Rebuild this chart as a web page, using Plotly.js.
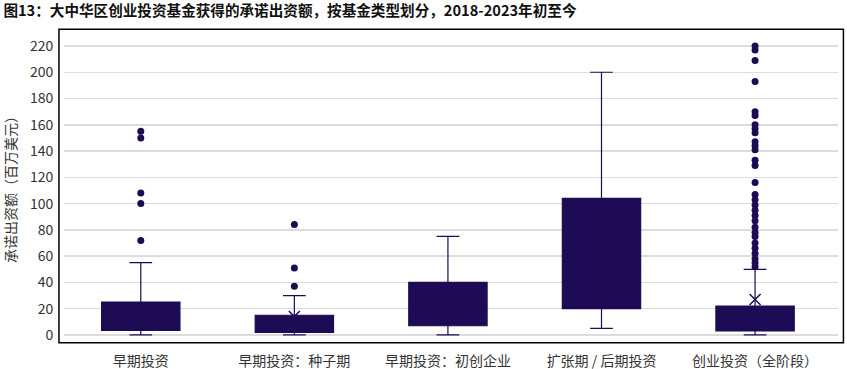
<!DOCTYPE html>
<html>
<head>
<meta charset="utf-8">
<script src="https://cdn.plot.ly/plotly-3.0.1.min.js"></script>
<style>html,body{margin:0;padding:0;background:#fff;}#chart{width:847px;height:369px;}</style>
</head>
<body>
<div id="chart"></div>
<script>
const categories = ['早期投资', '早期投资：种子期', '早期投资：初创企业', '扩张期 / 后期投资', '创业投资（全阶段）'];
const lowerWhisker = [0, 0, 0, 5, 0];
const q1 = [3.5, 2, 7, 20, 3];
const median = [10, 6, 20, 50, 8];
const q3 = [25, 15, 40, 104, 22];
const upperWhisker = [55, 30, 75, 200, 50];
const means = [17, 14, 25, 58, 27];
const outliersEarly = [155, 150, 108, 100, 72];
const outliersSeed = [84, 51, 37];
const outliersStartup = [];
const outliersLater = [];
const outliersAll = [220, 217, 209, 193, 170, 167, 160, 157, 154, 147, 144, 141, 133, 129, 116, 107, 103, 99, 95, 91, 87, 82, 78, 75, 70, 66, 62, 58, 55, 52];
const outlierGroups = [outliersEarly, outliersSeed, outliersStartup, outliersLater, outliersAll];
const yTicks = [0, 20, 40, 60, 80, 100, 120, 140, 160, 180, 200, 220];

const dark = '#1d0b55';
const font = '"Noto Sans CJK SC", "Noto Sans", sans-serif';

const ox = [], oy = [];
outlierGroups.forEach((g, i) => g.forEach(v => { ox.push(categories[i]); oy.push(v); }));

const traces = [
  {
    type: 'box',
    x: categories,
    q1: q1, median: median, q3: q3,
    lowerfence: lowerWhisker, upperfence: upperWhisker,
    width: 0.51,
    whiskerwidth: 0.29,
    fillcolor: dark,
    line: {color: dark, width: 1.2},
    boxpoints: false,
    hoverinfo: 'skip',
    showlegend: false
  },
  {
    type: 'scatter', mode: 'markers',
    x: ox, y: oy,
    marker: {color: dark, size: 7},
    hoverinfo: 'skip', showlegend: false
  },
  {
    type: 'scatter', mode: 'markers',
    x: categories, y: means,
    marker: {symbol: 'x-thin-open', size: 11, color: dark, line: {color: dark, width: 1.5}},
    hoverinfo: 'skip', showlegend: false
  }
];

const layout = {
  width: 847, height: 369,
  margin: {l: 64, r: 9, t: 31, b: 28},
  paper_bgcolor: '#fff', plot_bgcolor: '#fff',
  font: {family: font, size: 13, color: '#333'},
  title: {
    text: '<b>图13：大中华区创业投资基金获得的承诺出资额，按基金类型划分，2018-2023年初至今</b>',
    x: 0.004, xanchor: 'left', xref: 'container',
    y: 1 - 11 / 369, yanchor: 'middle', yref: 'container',
    font: {family: font, size: 14.6, color: '#111'}
  },
  xaxis: {
    type: 'category',
    range: [-0.5, 4.54],
    showgrid: false, zeroline: false, showline: false,
    ticks: 'outside', ticklen: 7, tickcolor: 'rgba(0,0,0,0)',
    tickfont: {family: font, size: 14, color: '#333'}
  },
  yaxis: {
    range: [-4.6, 231.4],
    tickvals: yTicks, ticktext: yTicks.map(String),
    showgrid: true, gridcolor: '#dcdcdc', gridwidth: 1.5,
    zeroline: false, showline: false,
    ticks: 'outside', ticklen: 7, tickcolor: 'rgba(0,0,0,0)',
    tickfont: {family: font, size: 14, color: '#333'},
    title: {text: '承诺出资额（百万美元）', font: {family: font, size: 14, color: '#333'}, standoff: 9}
  },
  shapes: [{
    type: 'rect', xref: 'paper', yref: 'paper',
    x0: -0.0065, x1: 1.007, y0: -0.006, y1: 1.006,
    line: {color: '#000', width: 1.5}, fillcolor: 'rgba(0,0,0,0)'
  }]
};

Plotly.newPlot('chart', traces, layout, {displayModeBar: false, staticPlot: true});
</script>
</body>
</html>
